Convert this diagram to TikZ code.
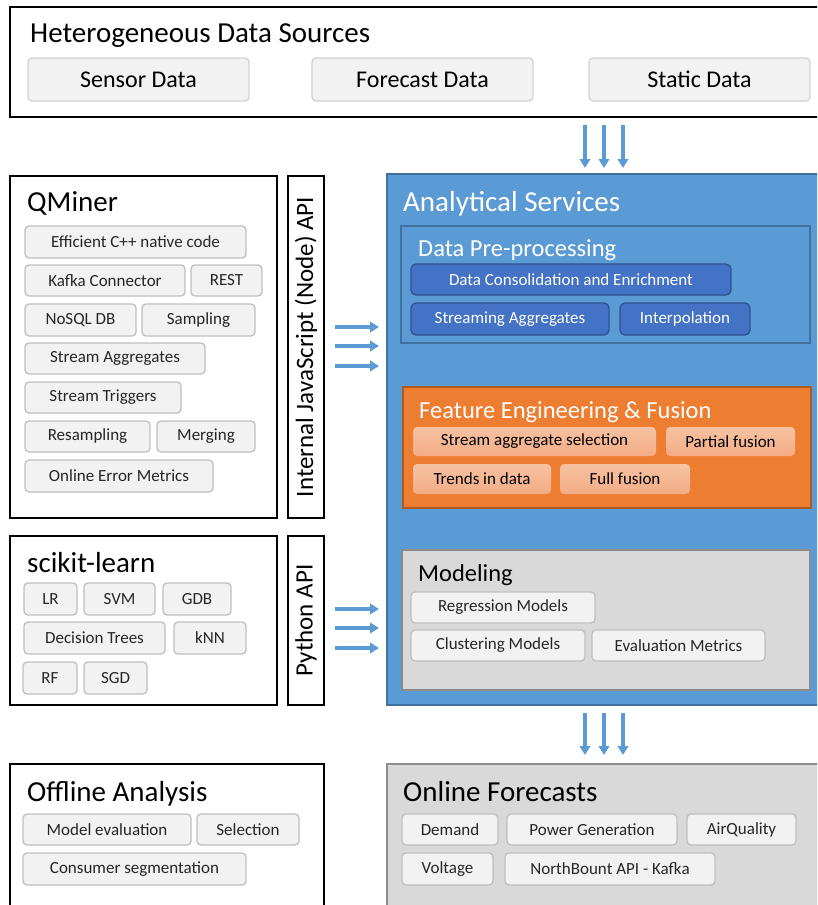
\documentclass[tikz,border=0pt]{standalone}
\usepackage{fontspec}
\setmainfont{Carlito}
\usetikzlibrary{arrows.meta}
\definecolor{asblue}{HTML}{5B9BD5}
\definecolor{asborder}{HTML}{41719C}
\definecolor{dkblue}{HTML}{4472C4}
\definecolor{dkborder}{HTML}{2F528F}
\definecolor{orfill}{HTML}{ED7D31}
\definecolor{orborder}{HTML}{AE5A21}
\definecolor{ortop}{HTML}{F7C2A2}
\definecolor{orbot}{HTML}{F3AC85}
\definecolor{grfill}{HTML}{D9D9D9}
\definecolor{grborder}{HTML}{8C8C8C}
\definecolor{itfill}{HTML}{F2F2F2}
\definecolor{itdraw}{HTML}{BFBFBF}
\definecolor{ittext}{HTML}{262626}
\definecolor{arrowblue}{HTML}{5B9BD5}
\newcommand\bx[7]{\node[#1, minimum width={(#5-#3)*1pt}, minimum height={(#6-#4)*1pt}] (#2) at ({(#3+#5)/2},{(#4+#6)/2}) {#7};}
\tikzset{
  frame/.style={draw=black, line width=1.6pt, fill=white, inner sep=0pt},
  apibox/.style={draw=black, line width=1.6pt, fill=white, inner sep=0pt},
  itembox/.style={draw=itdraw, fill=itfill, rounded corners=4pt, line width=1.3pt, text=ittext, inner sep=0pt, font=\fontsize{17}{20}\selectfont},
  bigitem/.style={itembox, draw=itdraw!70, font=\fontsize{24}{28}\selectfont, text=black},
  blueitem/.style={draw=dkborder, fill=dkblue, rounded corners=5pt, line width=1.3pt, text=white, inner sep=0pt, font=\fontsize{17}{20}\selectfont},
  oritem/.style={top color=ortop, bottom color=orbot, draw=none, rounded corners=4pt, text=black, inner sep=0pt, font=\fontsize{17}{20}\selectfont},
  ttl/.style={anchor=base west, inner sep=0pt, font=\fontsize{29}{33}\selectfont},
  subttl/.style={anchor=base west, inner sep=0pt, font=\fontsize{24.5}{28}\selectfont},
  apitext/.style={rotate=90, inner sep=0pt, font=\fontsize{25}{29}\selectfont},
  flow/.style={draw=arrowblue, line width=3.4pt, -{Triangle[width=10.5pt,length=9pt]}},
}
\begin{document}
\begin{tikzpicture}[x=1pt,y=-1pt]
\useasboundingbox (0,0) rectangle (817,905);
\clip (0,0) rectangle (817,905);
% ---------- top ----------
\bx{frame}{top}{10}{7}{840}{117}{}
\node[ttl] (ttop) at (30,42) {Heterogeneous Data Sources};
\bx{bigitem}{sensor}{28}{58}{249}{101}{Sensor Data}
\bx{bigitem}{forecast}{312}{58}{533}{101}{Forecast Data}
\bx{bigitem}{static}{589}{58}{810}{101}{Static Data}
% ---------- QMiner ----------
\bx{frame}{qminer}{10}{176}{277}{518}{}
\node[ttl] (tq) at (27,211) {QMiner};
\bx{itembox}{q1}{25}{226}{246}{258}{Efficient C++ native code}
\bx{itembox}{q2}{25}{265}{185}{296}{Kafka Connector}
\bx{itembox}{q3}{191}{265}{262}{296}{REST}
\bx{itembox}{q4}{25}{304}{136}{336}{NoSQL DB}
\bx{itembox}{q5}{142}{304}{255}{336}{Sampling}
\bx{itembox}{q6}{25}{343}{205}{374}{Stream Aggregates}
\bx{itembox}{q7}{25}{382}{181}{413}{Stream Triggers}
\bx{itembox}{q8}{25}{421}{150}{452}{Resampling}
\bx{itembox}{q9}{157}{421}{255}{452}{Merging}
\bx{itembox}{q10}{25}{460}{213}{492}{Online Error Metrics}
\bx{apibox}{jsapi}{288}{176}{324}{518}{}
\node[apitext] (jst) at (jsapi.center) {Internal JavaScript (Node) API};
% ---------- scikit ----------
\bx{frame}{sk}{10}{536}{277}{705}{}
\node[ttl] (tsk) at (27,572) {scikit-learn};
\bx{itembox}{s1}{24}{583}{77}{615}{LR}
\bx{itembox}{s2}{84}{583}{155}{615}{SVM}
\bx{itembox}{s3}{163}{583}{231}{615}{GDB}
\bx{itembox}{s4}{24}{622}{165}{654}{Decision Trees}
\bx{itembox}{s5}{174}{622}{246}{654}{kNN}
\bx{itembox}{s6}{23}{662}{77}{694}{RF}
\bx{itembox}{s7}{84}{662}{147}{694}{SGD}
\bx{apibox}{pyapi}{288}{536}{324}{705}{}
\node[apitext] (pyt) at (pyapi.center) {Python API};
% ---------- Analytical services ----------
\bx{draw=asborder, fill=asblue, line width=1.6pt, inner sep=0pt}{as}{387}{174}{840}{705}{}
\node[ttl, text=white] (tas) at (403,211) {Analytical Services};
\bx{draw=asborder, fill=asblue, line width=1.3pt, inner sep=0pt}{pre}{401}{226}{810}{343}{}
\node[subttl, text=white] (tpre) at (418,256) {Data Pre-processing};
\bx{blueitem}{p1}{411}{264}{731}{295}{Data Consolidation and Enrichment}
\bx{blueitem}{p2}{411}{303}{609}{335}{Streaming Aggregates}
\bx{blueitem}{p3}{620}{303}{750}{335}{Interpolation}
\bx{draw=orborder, fill=orfill, line width=1.3pt, inner sep=0pt}{fe}{403}{387}{811}{508}{}
\node[subttl, text=white] (tfe) at (419,418) {Feature Engineering \& Fusion};
\bx{oritem}{f1}{413}{427}{656}{456}{Stream aggregate selection}
\bx{oritem}{f2}{666}{427}{795}{456}{Partial fusion}
\bx{oritem}{f3}{413}{464}{551}{494}{Trends in data}
\bx{oritem}{f4}{560}{464}{690}{494}{Full fusion}
\bx{draw=grborder, fill=grfill, line width=1.3pt, inner sep=0pt}{mod}{402}{550}{810}{690}{}
\node[subttl] (tmod) at (418,581) {Modeling};
\bx{itembox}{m1}{411}{592}{595}{623}{Regression Models}
\bx{itembox}{m2}{411}{630}{585}{661}{Clustering Models}
\bx{itembox}{m3}{592}{630}{765}{661}{Evaluation Metrics}
% ---------- bottom ----------
\bx{frame}{off}{10}{764}{324}{930}{}
\node[ttl] (toff) at (27,801) {Offline Analysis};
\bx{itembox}{o1}{23}{814}{191}{845}{Model evaluation}
\bx{itembox}{o2}{197}{814}{299}{845}{Selection}
\bx{itembox}{o3}{23}{853}{246}{885}{Consumer segmentation}
\bx{draw=grborder, fill=grfill, line width=1.6pt, inner sep=0pt}{onl}{387}{764}{840}{930}{}
\node[ttl] (tonl) at (403,801) {Online Forecasts};
\bx{itembox}{n1}{402}{814}{498}{845}{Demand}
\bx{itembox}{n2}{507}{814}{677}{845}{Power Generation}
\bx{itembox}{n3}{687}{814}{796}{845}{AirQuality}
\bx{itembox}{n4}{402}{853}{493}{885}{Voltage}
\bx{itembox}{n5}{505}{853}{715}{885}{NorthBount API - Kafka}
% ---------- arrows ----------
\foreach \i/\x in {1/585,2/604,3/623}{
  \coordinate (ta\i) at (\x,125); \coordinate (tb\i) at (\x,168);
  \coordinate (ba\i) at (\x,713); \coordinate (bb\i) at (\x,755);
  \draw[flow] (ta\i) -- (tb\i);
  \draw[flow] (ba\i) -- (bb\i);
}
\foreach \i/\y in {1/327,2/346,3/366}{
  \coordinate (ja\i) at (335,\y); \coordinate (jb\i) at (379,\y);
  \draw[flow] (ja\i) -- (jb\i);
}
\foreach \i/\y in {1/609,2/628,3/648}{
  \coordinate (pa\i) at (335,\y); \coordinate (pb\i) at (379,\y);
  \draw[flow] (pa\i) -- (pb\i);
}
\end{tikzpicture}
\end{document}
